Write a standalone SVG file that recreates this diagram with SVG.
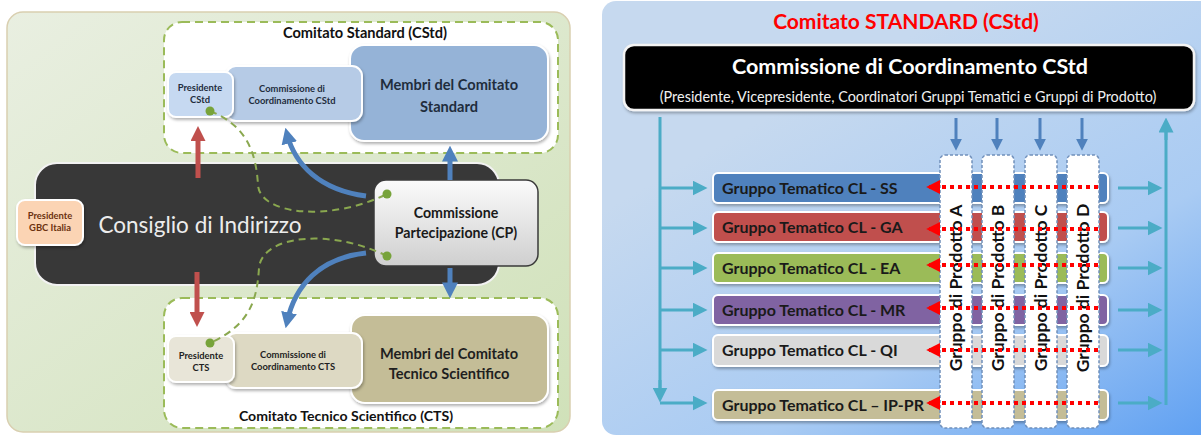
<svg xmlns="http://www.w3.org/2000/svg" width="1201" height="437" viewBox="0 0 1201 437">
<defs>
<linearGradient id="gGreen" x1="0" y1="0" x2="1" y2="1"><stop offset="0" stop-color="#e9efe1"/><stop offset="1" stop-color="#d0e1b9"/></linearGradient>
<linearGradient id="gBlue" x1="0.35" y1="0.2" x2="1" y2="1"><stop offset="0" stop-color="#c6d9ef"/><stop offset="0.55" stop-color="#a9cbf3"/><stop offset="1" stop-color="#5d9ff2"/></linearGradient>
<linearGradient id="gCP" x1="0" y1="0" x2="0" y2="1"><stop offset="0" stop-color="#fbfbfb"/><stop offset="1" stop-color="#cfcfcf"/></linearGradient>
<filter id="sh" x="-10%" y="-10%" width="130%" height="140%"><feDropShadow dx="1" dy="2" stdDeviation="1.5" flood-color="#000" flood-opacity="0.3"/></filter>
<marker id="mBlue" viewBox="0 0 10 10" refX="6" refY="5" markerWidth="3.2" markerHeight="3.2" orient="auto"><path d="M0,0 L10,5 L0,10 z" fill="#4f81bd"/></marker>
<marker id="mRed" viewBox="0 0 10 10" refX="6" refY="5" markerWidth="3" markerHeight="3" orient="auto"><path d="M0,0 L10,5 L0,10 z" fill="#c0504d"/></marker>
<marker id="mBlueS" viewBox="0 0 10 10" refX="6" refY="5" markerWidth="4" markerHeight="4" orient="auto"><path d="M0,0 L10,5 L0,10 z" fill="#4f81bd"/></marker>
<marker id="mTeal" viewBox="0 0 10 10" refX="7" refY="5" markerWidth="5" markerHeight="5" orient="auto"><path d="M0,0 L10,5 L0,10 z" fill="#4bacc6"/></marker>
<marker id="mRedDot" viewBox="0 0 10 10" refX="8" refY="5" markerWidth="3.5" markerHeight="3.5" orient="auto"><path d="M0,0 L10,5 L0,10 z" fill="#ff0000"/></marker>
</defs>
<style>
text{font-family:Lato,"Open Sans","Liberation Sans",sans-serif}
.b{font-weight:bold}
.dash{fill:#fff;stroke:#9bbb59;stroke-width:2;stroke-dasharray:8 5}
.gdash{fill:none;stroke:#8aa84f;stroke-width:2;stroke-dasharray:7 5}
.dot{fill:#77a33a}
.blue{fill:none;stroke:#4f81bd;stroke-width:5;marker-end:url(#mBlue)}
.red{fill:none;stroke:#c0504d;stroke-width:5;marker-end:url(#mRed)}
.row{stroke:#fff;stroke-width:2;filter:url(#sh)}
.rt{font-size:16px;font-weight:bold;fill:#1a1a1a}
.col{fill:#fff;stroke:#7090bb;stroke-width:1.5;stroke-dasharray:3 2}
.ct{font-size:17.5px;font-weight:bold;fill:#111}
.teal{stroke:#4bacc6;stroke-width:3;fill:none}
.tarr{stroke:#4bacc6;stroke-width:3;fill:none;marker-end:url(#mTeal)}
.rdot{stroke:#ff0000;stroke-width:4;stroke-dasharray:4 4;fill:none;marker-end:url(#mRedDot)}
.bdown{stroke:#4f81bd;stroke-width:3;fill:none;marker-end:url(#mBlueS)}
.sm{font-size:9.4px;font-weight:bold}
</style>

<!-- LEFT PANEL -->
<rect x="7" y="12" width="563" height="420" rx="16" fill="url(#gGreen)" stroke="#d9cfb0" stroke-width="1.5"/>

<g id="cstd-container">
<rect class="dash" x="164" y="22" width="394" height="131" rx="18"/>
<text class="b" x="365" y="38" font-size="14.6" text-anchor="middle" fill="#111">Comitato Standard (CStd)</text>
</g>
<g id="membri-cstd">
<rect x="350" y="45" width="198" height="96" rx="14" fill="#95b3d7" stroke="#fff" stroke-width="2" filter="url(#sh)"/>
<text class="b" x="449" y="90" font-size="14.6" text-anchor="middle" fill="#1f2d3d">Membri del Comitato</text>
<text class="b" x="449" y="112" font-size="14.6" text-anchor="middle" fill="#1f2d3d">Standard</text>
</g>
<g id="coord-cstd">
<rect x="226" y="66" width="136" height="55" rx="10" fill="#b6cbe6" stroke="#fff" stroke-width="2" filter="url(#sh)"/>
<text class="sm" x="292" y="92" text-anchor="middle" fill="#1f2d3d">Commissione di</text>
<text class="sm" x="292" y="104" text-anchor="middle" fill="#1f2d3d">Coordinamento CStd</text>
</g>
<g id="pres-cstd">
<rect x="168" y="72" width="65" height="45" rx="8" fill="#c6d9f1" stroke="#fff" stroke-width="2" filter="url(#sh)"/>
<text class="sm" x="200" y="91" text-anchor="middle" fill="#1f2d3d">Presidente</text>
<text class="sm" x="200" y="103" text-anchor="middle" fill="#1f2d3d">CStd</text>
</g>

<g id="cts-container">
<rect class="dash" x="164" y="298" width="394" height="130" rx="18"/>
<text class="b" x="346" y="421" font-size="14.1" text-anchor="middle" fill="#111">Comitato Tecnico Scientifico (CTS)</text>
</g>
<g id="membri-cts">
<rect x="351" y="315" width="197" height="88" rx="14" fill="#c4bd97" stroke="#fff" stroke-width="2" filter="url(#sh)"/>
<text class="b" x="449" y="359" font-size="14.6" text-anchor="middle" fill="#1f1f1f">Membri del Comitato</text>
<text class="b" x="449" y="379" font-size="14.6" text-anchor="middle" fill="#1f1f1f">Tecnico Scientifico</text>
</g>
<g id="coord-cts">
<rect x="226" y="333" width="136" height="55" rx="10" fill="#ddd9c3" stroke="#fff" stroke-width="2" filter="url(#sh)"/>
<text class="sm" x="293" y="358" text-anchor="middle" fill="#1f1f1f">Commissione di</text>
<text class="sm" x="293" y="370" text-anchor="middle" fill="#1f1f1f">Coordinamento CTS</text>
</g>
<g id="pres-cts">
<rect x="168" y="336" width="66" height="46" rx="8" fill="#e8e5d8" stroke="#fff" stroke-width="2" filter="url(#sh)"/>
<text class="sm" x="201" y="359" text-anchor="middle" fill="#1f1f1f">Presidente</text>
<text class="sm" x="201" y="371" text-anchor="middle" fill="#1f1f1f">CTS</text>
</g>

<g id="consiglio">
<rect x="35" y="163" width="464" height="122" rx="22" fill="#383838" stroke="#f2f2f2" stroke-width="2"/>
<text x="200" y="233" font-size="22.5" text-anchor="middle" fill="#ececec">Consiglio di Indirizzo</text>
</g>
<g id="pres-gbc">
<rect x="17" y="200" width="66" height="45" rx="8" fill="#fbd4b4" stroke="#fff" stroke-width="2" filter="url(#sh)"/>
<text class="sm" x="50" y="219" text-anchor="middle" fill="#6b3210">Presidente</text>
<text class="sm" x="50" y="231" text-anchor="middle" fill="#6b3210">GBC Italia</text>
</g>
<g id="cp">
<rect x="374" y="180" width="164" height="86" rx="12" fill="url(#gCP)" stroke="#3a3a3a" stroke-width="1.5"/>
<text class="b" x="456" y="218" font-size="14.2" text-anchor="middle" fill="#1a1a1a">Commissione</text>
<text class="b" x="456" y="238" font-size="14.2" text-anchor="middle" fill="#1a1a1a">Partecipazione (CP)</text>
</g>

<g id="connectors-left">
<path class="gdash" d="M210,111 C245,125 256,150 258,185 C260,215 330,222 387,194"/>
<path class="gdash" d="M387,256 C330,228 262,235 259,268 C257,300 250,325 210,343"/>
<circle class="dot" cx="210" cy="111" r="4.5"/>
<circle class="dot" cx="387" cy="194" r="4.5"/>
<circle class="dot" cx="387" cy="256" r="4.5"/>
<circle class="dot" cx="210" cy="343" r="4.5"/>
<path class="red" d="M198,178 L198,132"/>
<path class="red" d="M197,272 L197,321"/>
<path class="blue" d="M366,196 C320,190 295,165 287,134"/>
<path class="blue" d="M366,253 C320,258 295,285 287,322"/>
<path class="blue" d="M450,180 L450,152"/>
<path class="blue" d="M450,268 L450,292"/>
</g>

<!-- RIGHT PANEL -->
<rect x="602" y="1" width="620" height="434" rx="14" fill="url(#gBlue)"/>
<text class="b" x="906" y="29" font-size="21" text-anchor="middle" fill="#ff0000">Comitato STANDARD (CStd)</text>

<g id="coord-main">
<rect x="624" y="45" width="570" height="65" rx="10" fill="#000" stroke="#f4f4f4" stroke-width="2.5" filter="url(#sh)"/>
<text class="b" x="910" y="74" font-size="21.5" text-anchor="middle" fill="#fff">Commissione di Coordinamento CStd</text>
<text x="908" y="102" font-size="14.4" text-anchor="middle" fill="#f0f0f0">(Presidente, Vicepresidente, Coordinatori Gruppi Tematici e Gruppi di Prodotto)</text>
</g>

<g id="gt-ss"><rect class="row" x="713" y="173" width="395" height="30" rx="5" fill="#4f81bd"/><text class="rt" x="722" y="194">Gruppo Tematico CL - SS</text></g>
<g id="gt-ga"><rect class="row" x="713" y="212" width="395" height="30" rx="5" fill="#c0504d"/><text class="rt" x="722" y="233">Gruppo Tematico CL - GA</text></g>
<g id="gt-ea"><rect class="row" x="713" y="253" width="395" height="30" rx="5" fill="#9bbb59"/><text class="rt" x="722" y="274">Gruppo Tematico CL - EA</text></g>
<g id="gt-mr"><rect class="row" x="713" y="295" width="395" height="30" rx="5" fill="#8064a2"/><text class="rt" x="722" y="316">Gruppo Tematico CL - MR</text></g>
<g id="gt-qi"><rect class="row" x="713" y="335" width="395" height="31" rx="5" fill="#d9d9d9"/><text class="rt" x="722" y="356">Gruppo Tematico CL - QI</text></g>
<g id="gt-ippr"><rect class="row" x="713" y="390" width="395" height="30" rx="5" fill="#c4bd97"/><text class="rt" x="722" y="411">Gruppo Tematico CL – IP-PR</text></g>

<g id="gp-a"><rect class="col" x="940" y="155" width="32" height="273" rx="5"/><text class="ct" transform="translate(962,288) rotate(-90)" text-anchor="middle">Gruppo di Prodotto A</text></g>
<g id="gp-b"><rect class="col" x="982" y="155" width="32" height="273" rx="5"/><text class="ct" transform="translate(1004,288) rotate(-90)" text-anchor="middle">Gruppo di Prodotto B</text></g>
<g id="gp-c"><rect class="col" x="1025" y="155" width="32" height="273" rx="5"/><text class="ct" transform="translate(1047,288) rotate(-90)" text-anchor="middle">Gruppo di Prodotto C</text></g>
<g id="gp-d"><rect class="col" x="1067" y="155" width="32" height="273" rx="5"/><text class="ct" transform="translate(1089,288) rotate(-90)" text-anchor="middle">Gruppo di Prodotto D</text></g>

<g id="connectors-right">
<line class="teal" x1="660" y1="117" x2="660" y2="396"/>
<path class="tarr" d="M660,380 L660,398"/>
<path class="tarr" d="M660,188 L703,188"/>
<path class="tarr" d="M660,228 L703,228"/>
<path class="tarr" d="M660,268 L703,268"/>
<path class="tarr" d="M660,310 L703,310"/>
<path class="tarr" d="M660,350 L703,350"/>
<path class="tarr" d="M660,403 L703,403"/>
<path class="tarr" d="M1118,188 L1158,188"/>
<path class="tarr" d="M1118,228 L1158,228"/>
<path class="tarr" d="M1118,268 L1158,268"/>
<path class="tarr" d="M1118,310 L1158,310"/>
<path class="tarr" d="M1118,350 L1158,350"/>
<path class="tarr" d="M1118,403 L1158,403"/>
<line class="teal" x1="1166" y1="405" x2="1166" y2="130"/>
<path class="tarr" d="M1166,140 L1166,122"/>
<path class="bdown" d="M956,118 L956,146"/>
<path class="bdown" d="M997,118 L997,146"/>
<path class="bdown" d="M1040,118 L1040,146"/>
<path class="bdown" d="M1082,118 L1082,146"/>
<path class="rdot" d="M1098,187 L929,187"/>
<path class="rdot" d="M1098,229 L929,229"/>
<path class="rdot" d="M1098,265 L929,265"/>
<path class="rdot" d="M1098,308 L929,308"/>
<path class="rdot" d="M1098,350 L929,350"/>
<path class="rdot" d="M1098,403 L929,403"/>
</g>
</svg>
